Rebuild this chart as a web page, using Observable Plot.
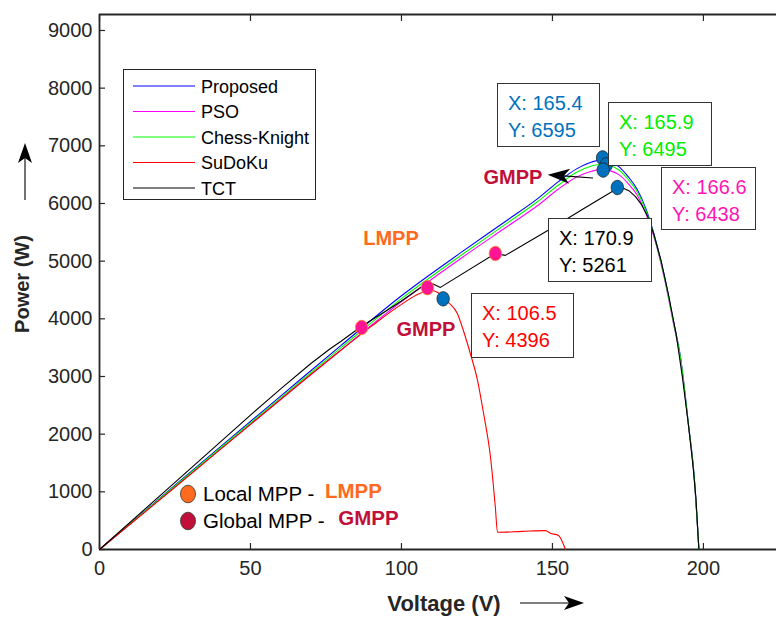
<!DOCTYPE html>
<html><head><meta charset="utf-8">
<script src="https://cdn.jsdelivr.net/npm/d3@7"></script>
<script src="https://cdn.jsdelivr.net/npm/@observablehq/plot@0.6"></script>
<style>
html,body{margin:0;padding:0;background:#fff;}
svg{display:block;}
</style></head><body><div id="chart"></div>
<script>
// ---- data ----
const voltage = [0,20,40,60,80,100,120,135,145,152,158,163,166,169,172,175,178,181,184,187,190,192.5,195,197,198.5];
const proposedP = [0,890,1780,2660,3540,4400,5160,5710,6080,6380,6600,6720,6755,6730,6640,6470,6250,5900,5400,4760,3980,3300,2190,1230,0];
const psoP = [0,870,1740,2600,3460,4300,5060,5600,5960,6250,6460,6560,6590,6570,6500,6350,6150,5820,5350,4720,3940,3270,2170,1210,0];
const chessP = [0,880,1760,2630,3500,4350,5110,5660,6030,6320,6540,6650,6680,6660,6580,6420,6210,5870,5380,4740,3960,3290,2180,1220,0];
const sudokuV = [0,25,50,76.5,90,100,106,110,113,115.6,118.5,120.5,122.8,125.2,127.2,129.5,131.1,131.8,140,147.7,149.3,152,154.3];
const sudokuP = [0,1080,2170,3312,3870,4250,4440,4490,4420,4283,4092,3797,3399,2930,2358,1595,728,300,315,328,283,243,0];
const tctV = [0,25,50,60,70,76.5,80,86.8,95,100,105,107.5,109.6,112.9,131.1,134.4,150,160,168,171.5,173.5,175.5,177.5,179.5,181.5,183.5,186,188.5,191,193,195,196.5,197.5,198.5];
const tctP = [0,1165,2330,2785,3225,3485,3610,3870,4140,4310,4490,4580,4625,4545,5133,5100,5580,5900,6150,6262,6265,6215,6120,5980,5780,5480,5000,4400,3720,3000,2180,1480,900,0];
const seriesNames = ["Proposed","PSO","Chess-Knight","SuDoKu","TCT"];
const seriesColors = ["#0000ff","#ff00ff","#00ff00","#ff0000","#000000"];
const lmppV = [86.8,108.6,131.1];
const lmppP = [3850,4540,5133];
const gmppV = [113.8,166.6,167.8,166.8,171.5];
const gmppP = [4347,6790,6670,6580,6277];
const xTicks = [0,50,100,150,200];
const yTicks = [0,1000,2000,3000,4000,5000,6000,7000,8000,9000];
const annX = ["X: 165.4","X: 165.9","X: 166.6","X: 170.9","X: 106.5"];
const annY = ["Y: 6595","Y: 6495","Y: 6438","Y: 5261","Y: 4396"];
const mppLegend = ["Local MPP - ","Global MPP - "];
const mppShort = ["LMPP","GMPP"];
const gmppArrow = [163.6,6433,148.6,6490]; // tail V,P -> tip V,P

// ---- styles / layout ----
const FONT = "'Liberation Sans', Arial, Helvetica, sans-serif";
const AXC = "#262626";
const annColors = ["#0072bd","#00ee00","#ff14b4","#000000","#ff0000"];
const annBoxes = [[497,83,102,63],[608,102,103,63],[661,167,94,62],[548,218,103,63],[471,293,102,64]];
const orange = "#ff6a1f", crimson = "#c0103a";

const rows = (V,P) => V.map((v,i)=>({v, p:P[i]}));
const seriesData = [rows(voltage,proposedP), rows(voltage,psoP), rows(voltage,chessP), rows(sudokuV,sudokuP), rows(tctV,tctP)];
const seriesCurve = ["monotone-x","monotone-x","monotone-x","monotone-x","linear"];
const lmpp = rows(lmppV,lmppP);
const gmpp = rows(gmppV,gmppP);

const ellipse = {draw(ctx, size){ const rx = 6.2, ry = 7.2; ctx.moveTo(rx,0); for(let a=0.2;a<=Math.PI*2+0.01;a+=0.2){ctx.lineTo(rx*Math.cos(a), ry*Math.sin(a));} ctx.closePath(); }};

const plot = Plot.plot({
  width:776, height:617, marginLeft:99, marginRight:0, marginTop:14, marginBottom:68,
  style:{fontFamily:FONT, fontSize:"20px", color:AXC, background:"#fff", overflow:"visible"},
  x:{domain:[0,224.2]}, y:{domain:[0,9277]},
  marks:[
    Plot.ruleY([0],{stroke:AXC,strokeWidth:1.8}),
    Plot.ruleY([9277],{stroke:AXC,strokeWidth:1.8}),
    Plot.ruleX([0],{stroke:AXC,strokeWidth:1.8}),
    Plot.axisX({ticks:xTicks, tickSize:6, tickPadding:5, tickFormat:d=>String(d), label:null, fontSize:20, stroke:AXC, strokeWidth:1.2}),
    Plot.axisX({anchor:"top", ticks:xTicks, tickSize:6, tickFormat:()=>"", label:null, stroke:AXC, strokeWidth:1.2}),
    Plot.axisY({ticks:yTicks, tickSize:6, tickPadding:1, tickFormat:d=>String(d), label:null, fontSize:20, stroke:AXC, strokeWidth:1.2}),
    ...seriesData.map((d,i)=>Plot.line(d,{x:"v",y:"p",stroke:seriesColors[i],strokeWidth:1.1,curve:seriesCurve[i]})),
    Plot.dot(lmpp,{x:"v",y:"p",symbol:ellipse,r:7,fill:"#ff1493",stroke:"#ff8c1a",strokeWidth:0.8}),
    Plot.dot(gmpp,{x:"v",y:"p",symbol:ellipse,r:7,fill:"#0072bd",stroke:"#1a1a1a",strokeWidth:0.7})
  ]
});
document.getElementById("chart").appendChild(plot);

const svg = d3.select(plot);
// inward ticks
svg.selectAll('g[aria-label="y-axis tick"] path').attr("d","M0,0L6,0");
svg.selectAll('g[aria-label="x-axis tick"] path').each(function(){
  const t = d3.select(this).attr("transform")||"";
  const m = /translate\(([^,]+),([^)]+)\)/.exec(t);
  if (m && +m[2] < 100) d3.select(this).attr("d","M0,0L0,6"); else d3.select(this).attr("d","M0,0L0,-6");
});

const xs = plot.scale("x"), ys = plot.scale("y");
const ov = svg.append("g").attr("font-family",FONT).attr("text-anchor","start");

function arrowHead(g, x1,y1,x2,y2, len, half, notch){
  const ang = Math.atan2(y2-y1, x2-x1);
  const ca = Math.cos(ang), sa = Math.sin(ang);
  const P = (a,b)=>[x2 + a*ca - b*sa, y2 + a*sa + b*ca];
  const pts = [P(0,0), P(-len, -half), P(-len+notch, 0), P(-len, half)];
  g.append("line").attr("x1",x1).attr("y1",y1).attr("x2",P(-len+notch,0)[0]).attr("y2",P(-len+notch,0)[1]).attr("stroke","#000").attr("stroke-width",1.1);
  g.append("path").attr("d","M"+pts.map(p=>p.join(",")).join("L")+"Z").attr("fill","#000");
}

// GMPP arrow (data coordinates)
arrowHead(ov, xs.apply(gmppArrow[0]), ys.apply(gmppArrow[1]), xs.apply(gmppArrow[2]), ys.apply(gmppArrow[3]), 22, 7.5, 6);

// LMPP / GMPP labels
ov.append("text").attr("x",391).attr("y",245).attr("text-anchor","middle").attr("font-weight","bold").attr("font-size",20).attr("fill",orange).text(mppShort[0]);
ov.append("text").attr("x",426).attr("y",336).attr("text-anchor","middle").attr("font-weight","bold").attr("font-size",20).attr("fill",crimson).text(mppShort[1]);
ov.append("text").attr("x",513).attr("y",184).attr("text-anchor","middle").attr("font-weight","bold").attr("font-size",20).attr("fill",crimson).text(mppShort[1]);

// data tip boxes
annBoxes.forEach((b,i)=>{
  const g = ov.append("g");
  g.append("rect").attr("x",b[0]+0.5).attr("y",b[1]+0.5).attr("width",b[2]).attr("height",b[3]).attr("fill","#fff").attr("stroke","#333").attr("stroke-width",1);
  g.append("text").attr("x",b[0]+11).attr("y",b[1]+27).attr("font-size",20).attr("fill",annColors[i]).text(annX[i]);
  g.append("text").attr("x",b[0]+11).attr("y",b[1]+54).attr("font-size",20).attr("fill",annColors[i]).text(annY[i]);
});

// main legend
const lg = ov.append("g");
lg.append("rect").attr("x",123.5).attr("y",69.5).attr("width",192).attr("height",130).attr("fill","#fff").attr("stroke","#262626").attr("stroke-width",1);
seriesNames.forEach((n,i)=>{
  const y = 86 + i*25.5;
  lg.append("line").attr("x1",133).attr("x2",195).attr("y1",y).attr("y2",y).attr("stroke",seriesColors[i]).attr("stroke-width",1.1);
  lg.append("text").attr("x",201).attr("y",y+6.5).attr("font-size",18).attr("fill","#000").text(n);
});

// MPP legend
[[494,orange,5],[521,crimson,8]].forEach(([y,c,gap],i)=>{
  ov.append("ellipse").attr("cx",188).attr("cy",y).attr("rx",7.5).attr("ry",8.8).attr("fill",c).attr("stroke","#333").attr("stroke-width",0.8);
  const t = ov.append("text").attr("x",203).attr("y",y+7).attr("font-size",20.5).attr("fill","#000");
  t.append("tspan").text(mppLegend[i]);
  t.append("tspan").attr("font-weight","bold").attr("fill",c).attr("dx",gap).attr("dy",-3).text(mppShort[i]);
});

// axis labels + arrows
ov.append("text").attr("transform","translate(29,284) rotate(-90)").attr("text-anchor","middle").attr("font-weight","bold").attr("font-size",20).attr("fill",AXC).text("Power (W)");
arrowHead(ov, 25, 200, 25, 143, 20, 7, 5);
ov.append("text").attr("x",444).attr("y",611).attr("text-anchor","middle").attr("font-weight","bold").attr("font-size",22).attr("fill",AXC).text("Voltage (V)");
arrowHead(ov, 520, 603, 584, 603, 20, 7, 5);
</script></body></html>
